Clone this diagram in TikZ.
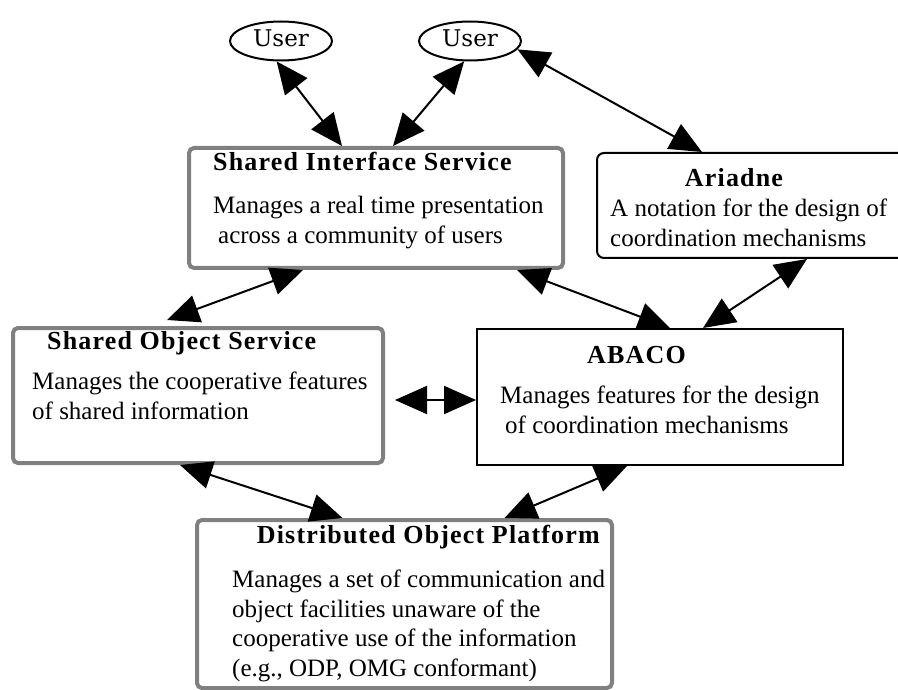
\documentclass[tikz,border=0pt]{standalone}
\usepackage{fontspec}
\setmainfont{Liberation Serif}
\newfontfamily\titlefont[LetterSpace=4.5]{Liberation Serif}
\newfontfamily\userfont{DejaVu Serif}
\usetikzlibrary{arrows.meta,shapes.geometric}

\definecolor{boxgray}{RGB}{128,128,128}

\tikzset{
  graybox/.style={draw=boxgray, line width=4pt, rounded corners=5pt, inner sep=0pt},
  blackbox/.style={draw=black, line width=2pt, inner sep=0pt},
  userell/.style={ellipse, draw, line width=2pt, minimum width=102pt, minimum height=39pt,
                  inner sep=0pt, text depth=5pt, font=\userfont\fontsize{23}{26}\selectfont},
  boxtitle/.style={inner sep=0pt, font=\titlefont\bfseries\fontsize{26}{30}\selectfont},
  boxtext/.style={inner sep=0pt, align=left, anchor=north west, font=\fontsize{25}{29.5}\selectfont},
  link/.style={{Triangle[length=32pt,width=28pt]}-{Triangle[length=32pt,width=28pt]}, line width=2pt}
}

\begin{document}
\begin{tikzpicture}[x=1pt, y=-1pt]
  \useasboundingbox (0,0) rectangle (898,690);

  % users
  \node[userell] (user1) at (281,41) {User};
  \node[userell] (user2) at (470,41) {User};

  % Shared Interface Service
  \node[graybox, minimum width=374pt, minimum height=120pt] (sis) at (376,208) {};
  \node[boxtitle, anchor=base west] (sistitle) at (213,171) {Shared Interface Service};
  \node[boxtext] (sistext) at (213,196) {Manages a real time presentation\\\hspace{5pt}across a community of users};

  % Ariadne
  \node[blackbox, rounded corners=7pt, minimum width=320pt, minimum height=105pt] (ariadne) at (757,205.5) {};
  \node[boxtitle, anchor=base] (aritle) at (734,187) {Ariadne};
  \node[boxtext] (aritext) at (610,199) {A notation for the design of\\coordination mechanisms};

  % Shared Object Service
  \node[graybox, minimum width=370pt, minimum height=135pt] (sos) at (198,395.5) {};
  \node[boxtitle, anchor=base west] (sostitle) at (47,349) {Shared Object Service};
  \node[boxtext] (sostext) at (32,372) {Manages the cooperative features\\of shared information};

  % ABACO
  \node[blackbox, minimum width=366pt, minimum height=136pt] (abaco) at (660,397) {};
  \node[boxtitle, anchor=base west] (abacotitle) at (587,363) {ABACO};
  \node[boxtext] (abacotext) at (500,386) {Manages features for the design\\\hspace{5pt}of coordination mechanisms};

  % Distributed Object Platform
  \node[graybox, minimum width=415pt, minimum height=168pt] (dop) at (404.5,604) {};
  \node[boxtitle, anchor=base east] (doptitle) at (600,543) {Distributed Object Platform};
  \node[boxtext] (doptext) at (232,570) {Manages a set of communication and\\object facilities unaware of the\\cooperative use of the information\\(e.g., ODP, OMG conformant)};

  % links
  \draw[link] (user1.258) -- ([xshift=-34pt]sis.north);
  \draw[link] (user2.254) -- ([xshift=17pt]sis.north);
  \draw[link] (user2.-10) -- ([xshift=-55pt]ariadne.north);
  \draw[link] ([xshift=-73pt]sis.south) -- ([xshift=-31pt,yshift=6pt]sos.north);
  \draw[link] ([xshift=141pt]sis.south) -- ([xshift=10pt]abaco.north);
  \draw[link] ([xshift=50pt]ariadne.south) -- ([xshift=43pt]abaco.north);
  \draw[link] ([xshift=10pt,yshift=-4.5pt]sos.east) -- ([yshift=-3pt]abaco.west);
  \draw[link] ([xshift=-18pt]sos.south) -- ([xshift=-62pt]dop.north);
  \draw[link] ([xshift=-33pt]abaco.south) -- ([xshift=100pt]dop.north);
\end{tikzpicture}
\end{document}
